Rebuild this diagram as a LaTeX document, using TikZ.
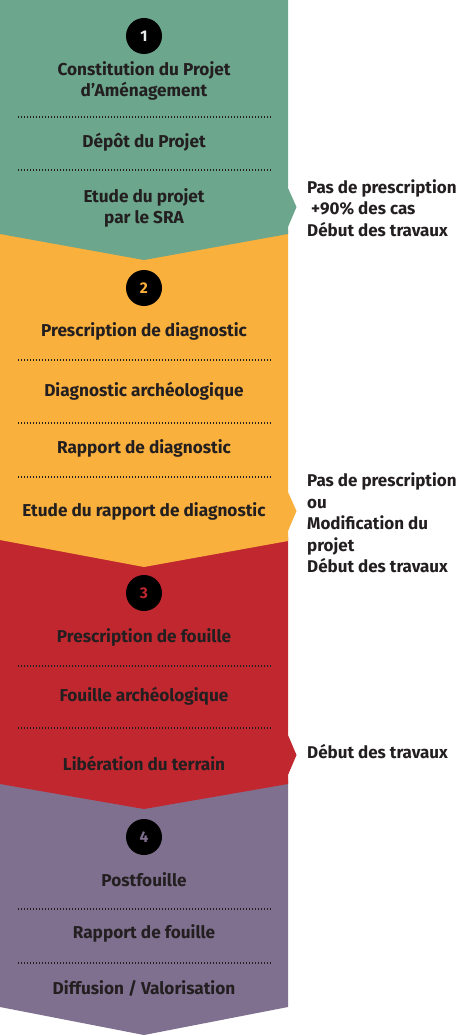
\documentclass[tikz,border=0pt]{standalone}
\usepackage{fontspec}
\setmainfont{Fira Sans}
\definecolor{pgreen}{HTML}{6CA68C}
\definecolor{porange}{HTML}{F9B03D}
\definecolor{pred}{HTML}{C1272F}
\definecolor{ppurple}{HTML}{80708F}
\definecolor{txt}{HTML}{231F20}
\definecolor{onelight}{HTML}{E6ECE9}
\begin{document}
\begin{tikzpicture}[x=1pt,y=-1pt,
  lbl/.style={font=\bfseries\fontsize{17.2}{21}\selectfont, text=txt, align=center, inner sep=0pt},
  side/.style={font=\bfseries\fontsize{17}{21.5}\selectfont, text=txt, align=left, inner sep=0pt, anchor=west},
  sepline/.style={draw=txt, line width=1.4pt, dash pattern=on 1.4pt off 1.6pt},
  num/.style={circle, fill=black, minimum size=36pt, inner sep=0pt, font=\bfseries\fontsize{15.5}{15.5}\selectfont}]
\useasboundingbox (0,0) rectangle (459,1035);
% panels (drawn bottom-up so each V overlaps the next)
\fill[ppurple] (0,780) -- (288,780) -- (288,1007) -- (144,1035) -- (0,1007) -- cycle;
\fill[pred] (0,537) -- (288,537) -- (288,735) -- (296.5,755) -- (288,775) -- (288,784) -- (144,809) -- (0,784) -- cycle;
\fill[porange] (0,230) -- (288,230) -- (288,492) -- (296.5,511) -- (288,531) -- (288,541) -- (144,567) -- (0,540) -- cycle;
\fill[pgreen] (0,0) -- (288,0) -- (288,188) -- (296.5,207) -- (288,227) -- (288,234) -- (144,260) -- (0,234) -- cycle;
% number circles
\node[num, text=onelight] (n1) at (144,36) {1};
\node[num, text=porange] (n2) at (144,288) {2};
\node[num, text=pred] (n3) at (144,593) {3};
\node[num, text=ppurple] (n4) at (144,837) {4};
% panel 1
\node[lbl] (a1) at (144,80.5) {Constitution du Projet\\d’Aménagement};
\node[lbl] (a2) at (144,142) {Dépôt du Projet};
\node[lbl] (a3) at (144,207.5) {Etude du projet\\par le SRA};
\draw[sepline] (18,117) coordinate (s1a) -- (271,117) coordinate (s1b);
\draw[sepline] (18,170) coordinate (s2a) -- (271,170) coordinate (s2b);
% panel 2
\node[lbl] (b1) at (144,331) {Prescription de diagnostic};
\node[lbl] (b2) at (144,391) {Diagnostic archéologique};
\node[lbl] (b3) at (144,448) {Rapport de diagnostic};
\node[lbl] (b4) at (144,511) {Etude du rapport de diagnostic};
\draw[sepline] (18,360) coordinate (s3a) -- (271,360) coordinate (s3b);
\draw[sepline] (18,423) coordinate (s4a) -- (271,423) coordinate (s4b);
\draw[sepline] (18,477) coordinate (s5a) -- (271,477) coordinate (s5b);
% panel 3
\node[lbl] (c1) at (144,637) {Prescription de fouille};
\node[lbl] (c2) at (144,696) {Fouille archéologique};
\node[lbl] (c3) at (144,763) {Libération du terrain};
\draw[sepline] (18,666) coordinate (s6a) -- (271,666) coordinate (s6b);
\draw[sepline] (18,728) coordinate (s7a) -- (271,728) coordinate (s7b);
% panel 4
\node[lbl] (d1) at (144,880) {Postfouille};
\node[lbl] (d2) at (144,933) {Rapport de fouille};
\node[lbl] (d3) at (144,988) {Diffusion / Valorisation};
\draw[sepline] (18,909) coordinate (s8a) -- (271,909) coordinate (s8b);
\draw[sepline] (18,963) coordinate (s9a) -- (271,963) coordinate (s9b);
% side notes
\node[side] (r1) at (307,208) {Pas de prescription\\\ +90\% des cas\\Début des travaux};
\node[side] (r2) at (307,523) {Pas de prescription\\ou\\Modification du\\projet\\Début des travaux};
\node[side] (r3) at (307,752) {Début des travaux};
\end{tikzpicture}
\end{document}
